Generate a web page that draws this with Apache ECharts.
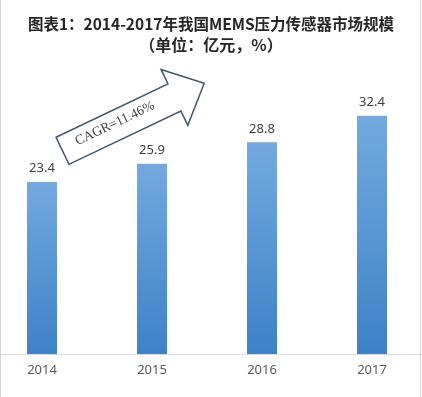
<!DOCTYPE html>
<html>
<head>
<meta charset="utf-8">
<script src="https://cdn.jsdelivr.net/npm/echarts@6/dist/echarts.min.js"></script>
<style>html,body{margin:0;padding:0;background:#fff;}#c{width:422px;height:397px;}</style>
</head>
<body>
<div id="c"></div>
<script>
var categories = ['2014', '2015', '2016', '2017'];
var marketSize = [23.4, 25.9, 28.8, 32.4];
var titleLine1 = '图表1：2014-2017年我国MEMS压力传感器市场规模';
var titleLine2 = '（单位：亿元，%）';
var cagrText = 'CAGR=11.46%';

var chart = echarts.init(document.getElementById('c'));
var ang = 25.5 * Math.PI / 180;
var hw = 15, headU = 124, headHW = 31, tipU = 157;
chart.setOption({
  backgroundColor: '#ffffff',
  animation: false,
  title: {
    text: titleLine1,
    subtext: titleLine2,
    left: 'center',
    top: 10,
    itemGap: 3,
    textStyle: {
      fontFamily: 'Noto Sans CJK SC',
      fontSize: 15.5,
      fontWeight: 'bold',
      color: '#262626',
      lineHeight: 18
    },
    subtextStyle: {
      fontFamily: 'Noto Sans CJK SC',
      fontSize: 16,
      fontWeight: 'bold',
      color: '#262626',
      lineHeight: 18
    }
  },
  grid: { left: -13, width: 440, top: 60, bottom: 43, containLabel: false, outerBoundsMode: 'none' },
  xAxis: {
    type: 'category',
    data: categories,
    axisLine: { lineStyle: { color: '#d9d9d9', width: 1 } },
    axisTick: { show: false },
    axisLabel: { color: '#595959', fontSize: 13, fontFamily: 'Noto Sans', margin: 10 }
  },
  yAxis: {
    type: 'value',
    min: 0,
    max: 40,
    show: false,
    splitLine: { show: false }
  },
  series: [{
    type: 'bar',
    data: marketSize,
    barWidth: 30,
    itemStyle: {
      color: new echarts.graphic.LinearGradient(0, 0, 0, 1, [
        { offset: 0, color: '#74a9df' },
        { offset: 1, color: '#3d82c8' }
      ])
    },
    label: {
      show: true,
      position: 'top',
      distance: 7,
      color: '#404040',
      fontSize: 13,
      fontFamily: 'Noto Sans'
    }
  }],
  graphic: [
    {
      type: 'group',
      x: 62.5, y: 150.8,
      rotation: ang,
      children: [
        {
          type: 'polygon',
          shape: { points: [[0, -hw], [headU, -hw], [headU, -headHW], [tipU, 0], [headU, headHW], [headU, hw], [0, hw]] },
          style: { fill: '#ffffff', stroke: '#44546a', lineWidth: 1.5 }
        },
        {
          type: 'text',
          x: 59, y: -2,
          style: {
            text: cagrText,
            fill: '#404040',
            font: '13.5px "Liberation Serif", serif',
            textAlign: 'center',
            textVerticalAlign: 'middle'
          }
        }
      ]
    },
    { type: 'line', shape: { x1: 0.5, y1: 0, x2: 0.5, y2: 397 }, style: { stroke: '#d9d9d9', lineWidth: 1 } },
    { type: 'line', shape: { x1: 420.5, y1: 0, x2: 420.5, y2: 397 }, style: { stroke: '#d9d9d9', lineWidth: 1 } }
  ]
});
</script>
</body>
</html>
